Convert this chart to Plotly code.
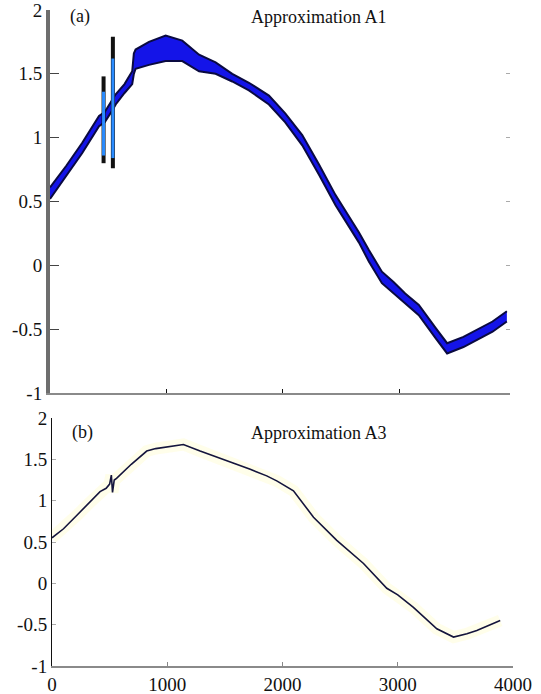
import plotly.graph_objects as go

# ---------------- data ----------------
# Panel (a): Approximation A1 -- thick noisy band (upper / lower envelope)
a1_x = [0, 140, 277, 421, 470, 540, 564, 640, 706, 720, 735, 850, 993, 1136, 1280,
        1422, 1565, 1708, 1880, 2020, 2166, 2310, 2452, 2652, 2738, 2850, 2950, 3050,
        3167, 3311, 3410, 3550, 3700, 3800, 3923]
a1_hi = [0.61, 0.78, 0.96, 1.17, 1.20, 1.30, 1.34, 1.42, 1.52, 1.66, 1.69, 1.75, 1.80,
         1.76, 1.65, 1.59, 1.50, 1.43, 1.33, 1.19, 1.02, 0.79, 0.55, 0.26, 0.12, -0.05,
         -0.13, -0.22, -0.31, -0.49, -0.61, -0.56, -0.49, -0.44, -0.36]
a1_lo = [0.52, 0.70, 0.88, 1.09, 1.12, 1.22, 1.26, 1.35, 1.42, 1.50, 1.54, 1.57, 1.60,
         1.60, 1.52, 1.50, 1.44, 1.37, 1.26, 1.12, 0.94, 0.71, 0.47, 0.18, 0.03, -0.14,
         -0.22, -0.30, -0.39, -0.57, -0.69, -0.64, -0.57, -0.52, -0.44]
# vertical spikes in panel (a)
spike_x = [460, 540]
spike_lo = [0.80, 0.76]
spike_hi = [1.48, 1.79]
spike_in_lo = [0.86, 0.84]
spike_in_hi = [1.36, 1.62]

# Panel (b): Approximation A3
a3_x = [0, 100, 214, 330, 417, 470, 500, 515, 525, 540, 560, 688, 822, 900, 995,
        1140, 1285, 1420, 1574, 1720, 1863, 1950, 2095, 2269, 2471, 2703, 2905, 3000,
        3136, 3339, 3484, 3600, 3686, 3800, 3889]
a3_y = [0.55, 0.66, 0.82, 0.98, 1.11, 1.15, 1.20, 1.31, 1.10, 1.25, 1.27, 1.44, 1.60,
        1.63, 1.65, 1.68, 1.60, 1.53, 1.46, 1.38, 1.30, 1.24, 1.12, 0.80, 0.52, 0.24,
        -0.06, -0.14, -0.29, -0.55, -0.65, -0.61, -0.57, -0.50, -0.45]

y_ticks = [-1, -0.5, 0, 0.5, 1, 1.5, 2]
y_ticktext = ["-1", "-0.5", "0", "0.5", "1", "1.5", "2"]
x_ticks = [0, 1000, 2000, 3000, 4000]
x_ticktext = ["0", "1000", "2000", "3000", "4000"]
titles = ["Approximation A1", "Approximation A3"]
panel_tags = ["(a)", "(b)"]

W, H = 541, 694
FONT = "Liberation Serif, Times New Roman, serif"

fig = go.Figure()

# ---- panel (a) band ----
fig.add_trace(go.Scatter(x=a1_x, y=a1_lo, mode="lines", xaxis="x", yaxis="y",
                         line=dict(color="#0a0a40", width=2), showlegend=False,
                         hoverinfo="skip"))
fig.add_trace(go.Scatter(x=a1_x, y=a1_hi, mode="lines", xaxis="x", yaxis="y",
                         fill="tonexty", fillcolor="#1414e8",
                         line=dict(color="#0a0a40", width=2), showlegend=False,
                         hoverinfo="skip"))
# spikes
sx, sy, ix, iy = [], [], [], []
for x, lo, hi, ilo, ihi in zip(spike_x, spike_lo, spike_hi, spike_in_lo, spike_in_hi):
    sx += [x, x, None]
    sy += [lo, hi, None]
    ix += [x, x, None]
    iy += [ilo, ihi, None]
fig.add_trace(go.Scatter(x=sx, y=sy, mode="lines", xaxis="x", yaxis="y",
                         line=dict(color="#111111", width=4), showlegend=False,
                         hoverinfo="skip"))
fig.add_trace(go.Scatter(x=ix, y=iy, mode="lines", xaxis="x", yaxis="y",
                         line=dict(color="#2a8cff", width=3), showlegend=False,
                         hoverinfo="skip"))

# ---- panel (b) ----
fig.add_trace(go.Scatter(x=a3_x, y=a3_y, mode="lines", xaxis="x2", yaxis="y2",
                         line=dict(color="rgba(255,250,170,0.25)", width=12),
                         showlegend=False, hoverinfo="skip"))
fig.add_trace(go.Scatter(x=a3_x, y=a3_y, mode="lines", xaxis="x2", yaxis="y2",
                         line=dict(color="#14143c", width=1.6), showlegend=False))

# invisible trace for right-hand ticks in panel (a)
fig.add_trace(go.Scatter(x=[a1_x[0]], y=[a1_lo[0]], mode="markers", xaxis="x",
                         yaxis="y3", marker=dict(opacity=0), showlegend=False,
                         hoverinfo="skip"))

tickfont = dict(family=FONT, size=19, color="#111")
common = dict(showgrid=False, zeroline=False, automargin=False,
              ticklabeloverflow="allow")

fig.update_layout(
    template="none",
    width=W, height=H,
    margin=dict(l=0, r=0, t=0, b=0, autoexpand=False),
    paper_bgcolor="white", plot_bgcolor="white",
    font=dict(family=FONT, color="#111"),
    xaxis=dict(domain=[50 / W, 510 / W], range=[0, 3950], anchor="y",
               showline=True, linecolor="#8a8a8a",
               linewidth=2, ticks="inside", ticklen=4, tickcolor="#111",
               tickvals=[1000, 2000, 3000], showticklabels=False, **common),
    yaxis=dict(domain=[(H - 393) / H, (H - 10) / H], range=[-1, 2], anchor="x",
               showline=True, linecolor="#6e6e6e",
               linewidth=4, ticks="inside", ticklen=9, tickcolor="#444",
               tickvals=y_ticks, ticktext=y_ticktext, tickfont=tickfont, **common),
    yaxis3=dict(overlaying="y", side="right", range=[-1, 2], anchor="x",
                showline=False, ticks="inside",
                ticklen=4, tickcolor="#aaaaaa", tickvals=[-0.5, 0, 0.5, 1, 1.5],
                showticklabels=False, **common),
    xaxis2=dict(domain=[52 / W, 513 / W], range=[0, 4000], anchor="y2",
                showline=True, linecolor="#8a8a8a",
                linewidth=2, ticks="inside", ticklen=4, tickcolor="#888",
                tickvals=x_ticks, ticktext=x_ticktext, tickfont=tickfont, **common),
    yaxis2=dict(domain=[(H - 666) / H, (H - 418) / H], range=[-1, 2], anchor="x2",
                showline=True, linecolor="#111",
                linewidth=1, ticks="inside", ticklen=4, tickcolor="#aaa",
                tickvals=y_ticks, ticktext=y_ticktext, tickfont=tickfont, **common),
)

ann_font = dict(family=FONT, size=18, color="#111")
for i, (tag, title) in enumerate(zip(panel_tags, titles)):
    ypx = 17 if i == 0 else 433
    fig.add_annotation(x=(80 if i == 0 else 82) / W, y=1 - ypx / H,
                       xref="paper", yref="paper", text=tag, showarrow=False,
                       font=ann_font, xanchor="center", yanchor="middle")
    fig.add_annotation(x=319 / W, y=1 - ypx / H, xref="paper", yref="paper",
                       text=title, showarrow=False, font=ann_font,
                       xanchor="center", yanchor="middle")

fig.write_html(
    "out.html",
    config={"displayModeBar": False},
    post_script="document.body.style.margin='0px';document.body.style.overflow='hidden';",
)
